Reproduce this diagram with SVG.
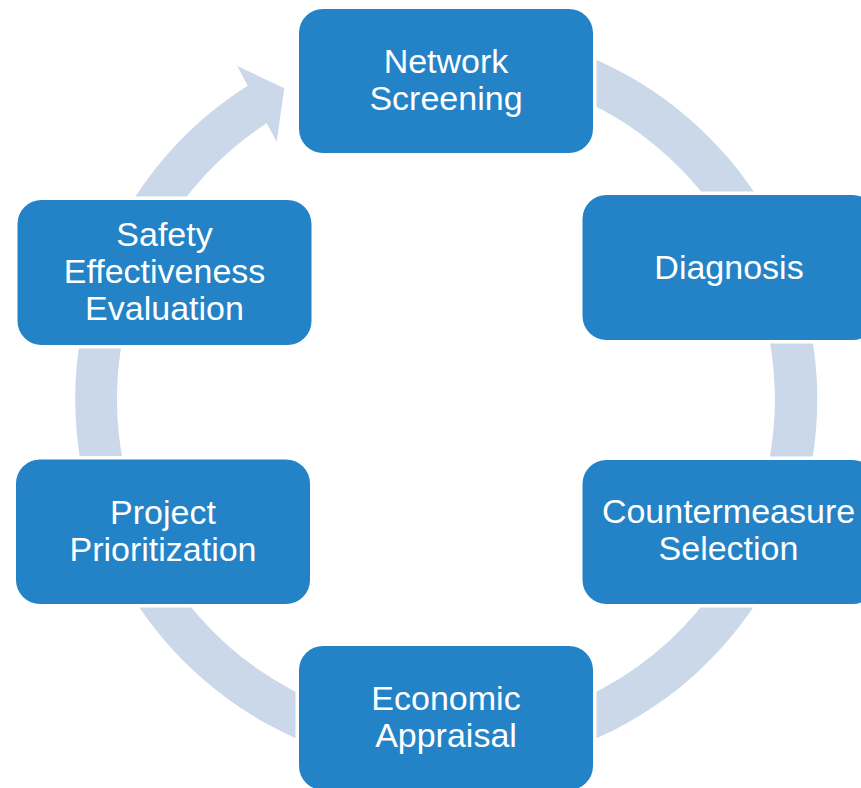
<svg xmlns="http://www.w3.org/2000/svg" width="861" height="788" viewBox="0 0 861 788">
  <style>
    .box { fill: #2383c6; stroke: #ffffff; stroke-width: 7; paint-order: stroke; }
    .lbl { font-family: "Liberation Sans", Arial, sans-serif; font-size: 34px; fill: #ffffff; text-anchor: middle; }
    .ring { fill: #cbd8e9; }
  </style>
  <rect x="0" y="0" width="861" height="788" fill="#ffffff"/>
  <g id="connectors">
    <path class="ring" d="M 382.6 33.6 A 371 371 0 1 1 247.7 85.7 L 237.3 66 L 284.3 88.3 L 276.7 141.7 L 266.7 123.3 A 329 329 0 1 0 389.9 75 Z"/>
  </g>
  <g id="network-screening">
    <rect class="box" x="299" y="9" width="294" height="144" rx="24"/>
    <text class="lbl" x="446" y="73">Network</text>
    <text class="lbl" x="446" y="110">Screening</text>
  </g>
  <g id="diagnosis">
    <rect class="box" x="582.5" y="195" width="294" height="145" rx="24"/>
    <text class="lbl" x="729" y="278.5">Diagnosis</text>
  </g>
  <g id="countermeasure-selection">
    <rect class="box" x="582.5" y="460" width="294" height="144" rx="24"/>
    <text class="lbl" x="728.5" y="523">Countermeasure</text>
    <text class="lbl" x="728.5" y="560">Selection</text>
  </g>
  <g id="economic-appraisal">
    <rect class="box" x="299" y="646" width="294" height="144" rx="24"/>
    <text class="lbl" x="446" y="710">Economic</text>
    <text class="lbl" x="446" y="747">Appraisal</text>
  </g>
  <g id="project-prioritization">
    <rect class="box" x="16" y="459.5" width="294" height="144.5" rx="24"/>
    <text class="lbl" x="163" y="523.5">Project</text>
    <text class="lbl" x="163" y="561">Prioritization</text>
  </g>
  <g id="safety-effectiveness-evaluation">
    <rect class="box" x="17.5" y="200" width="294" height="145" rx="24"/>
    <text class="lbl" x="164.5" y="246">Safety</text>
    <text class="lbl" x="164.5" y="283">Effectiveness</text>
    <text class="lbl" x="164.5" y="320">Evaluation</text>
  </g>
</svg>
